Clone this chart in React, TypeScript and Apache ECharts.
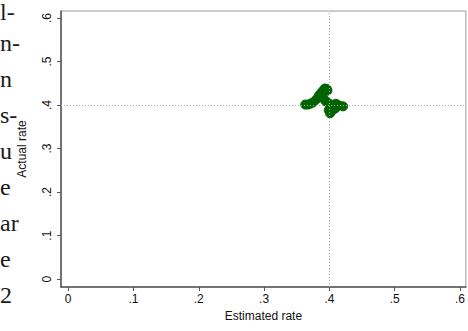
import React, { useEffect, useRef } from "react";
import * as echarts from "echarts";

const estimated = [0.363, 0.367, 0.371, 0.375, 0.380, 0.384, 0.387, 0.389, 0.392, 0.393, 0.396, 0.397, 0.390, 0.392, 0.395, 0.399, 0.404, 0.399, 0.401, 0.403, 0.409, 0.415, 0.421, 0.410, 0.406];
const actual = [0.401, 0.401, 0.403, 0.406, 0.413, 0.422, 0.427, 0.431, 0.435, 0.438, 0.437, 0.433, 0.417, 0.413, 0.408, 0.404, 0.397, 0.388, 0.381, 0.385, 0.392, 0.399, 0.397, 0.403, 0.400];
const tickValues = [0, 0.1, 0.2, 0.3, 0.4, 0.5, 0.6];
const tickLabels = ["0", ".1", ".2", ".3", ".4", ".5", ".6"];
const sideText = ["l-", "n-", "n", "s-", "u", "e", "ar", "e", "2"];

const fmt = (v: number) => {
  const i = tickValues.findIndex((t) => Math.abs(t - v) < 1e-6);
  return i >= 0 ? tickLabels[i] : "";
};

export default function App() {
  const ref = useRef<HTMLDivElement>(null);
  useEffect(() => {
    const chart = echarts.init(ref.current!, null, { renderer: "svg" });
    const font = "Liberation Sans, Arial, Helvetica, sans-serif";
    chart.setOption({
      animation: false,
      backgroundColor: "#ffffff",
      grid: { left: 61, right: 1, top: 11, bottom: 44, show: true, borderColor: "#9a9a9a", borderWidth: 1 },
      graphic: sideText.map((t, i) => ({
        type: "text",
        left: 0,
        top: i === 0 ? 0 : -5 + i * 36,
        style: { text: t, font: "24px 'Liberation Serif', 'DejaVu Serif', serif", fill: "#1a1a1a" },
      })),
      xAxis: {
        type: "value",
        min: -0.011,
        max: 0.609,
        splitLine: { show: false },
        axisLine: { show: true, onZero: false, lineStyle: { color: "#555", width: 1.5 } },
        axisTick: { show: true, length: 4, lineStyle: { color: "#555" }, customValues: tickValues },
        axisLabel: { color: "#111", fontSize: 12, fontFamily: font, margin: 6, customValues: tickValues, formatter: fmt },
        name: "Estimated rate",
        nameLocation: "middle",
        nameGap: 23,
        nameTextStyle: { color: "#111", fontSize: 12, fontFamily: font },
      },
      yAxis: {
        type: "value",
        min: -0.018,
        max: 0.616,
        splitLine: { show: false },
        axisLine: { show: true, onZero: false, lineStyle: { color: "#555", width: 1.5 } },
        axisTick: { show: true, length: 4, lineStyle: { color: "#555" }, customValues: tickValues },
        axisLabel: { color: "#111", fontSize: 12, fontFamily: font, margin: 8, rotate: 90, customValues: tickValues, formatter: fmt },
        name: "Actual rate",
        nameLocation: "middle",
        nameGap: 33,
        nameTextStyle: { color: "#111", fontSize: 12, fontFamily: font },
      },
      series: [
        {
          type: "scatter",
          data: estimated.map((x, i) => [x, actual[i]]),
          symbol: "circle",
          symbolSize: 9,
          itemStyle: { color: "#006400", opacity: 1, borderColor: "#006400", borderWidth: 1 },
          markLine: {
            silent: true,
            symbol: "none",
            label: { show: false },
            lineStyle: { color: "#a8a8a8", type: [1, 2], width: 1 },
            data: [{ xAxis: 0.4 }, { yAxis: 0.4 }],
          },
          z: 3,
        },
      ],
    });
    return () => chart.dispose();
  }, []);
  return <div ref={ref} style={{ width: 468, height: 331, position: "absolute", left: 0, top: 0 }} />;
}
